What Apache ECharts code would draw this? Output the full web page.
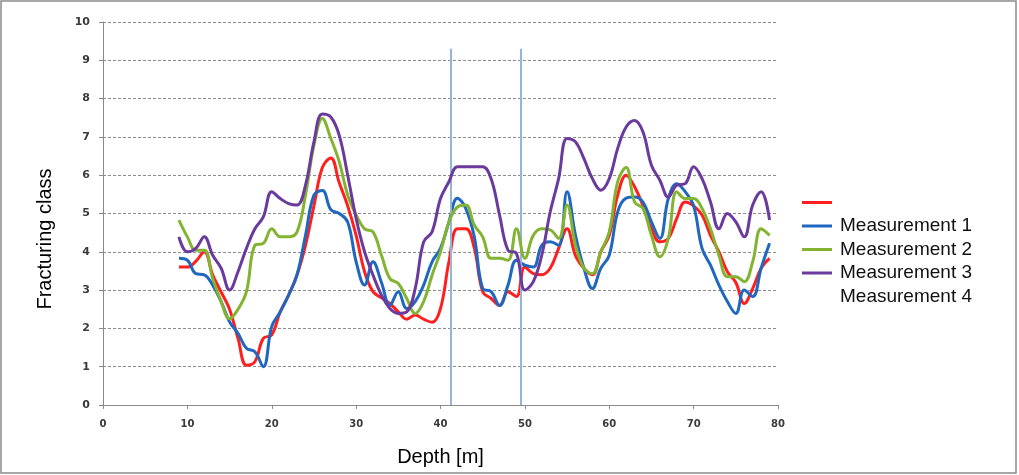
<!DOCTYPE html>
<html>
<head>
<meta charset="utf-8">
<script src="https://cdn.jsdelivr.net/npm/echarts@6/dist/echarts.min.js"></script>
<style>html,body{margin:0;padding:0;background:#fff;}#chart{width:1019px;height:475px;}</style>
</head>
<body>
<div id="chart"></div>
<script>
// Depth positions (m)
const depth = [9,10,11,12,13,14,15,16,17,18,19,20,21,22,23,24,25,26,27,28,29,30,31,32,33,34,35,36,37,38,39,40,41,42,43,44,45,46,47,48,49,50,51,52,53,54,55,56,57,58,59,60,61,62,63,64,65,66,67,68,69,70,71,72,73,74,75,76,77,78,79];

const redValues = [3.6,3.6,3.75,4.0,3.4,2.95,2.5,1.74,1.04,1.13,1.74,1.83,2.43,2.87,3.4,4.17,5.2,6.2,6.45,5.8,5.2,4.43,3.48,2.96,2.8,2.65,2.43,2.24,2.35,2.24,2.16,2.52,3.74,4.6,4.6,4.1,2.96,2.78,2.6,2.96,2.83,3.6,3.43,3.4,3.57,4.09,4.6,3.9,3.57,3.4,4.0,4.43,5.48,6.0,5.7,5.2,4.6,4.26,4.35,4.87,5.3,5.2,4.96,4.43,4.0,3.48,3.2,2.65,3.04,3.57,3.83];

const blueValues = [3.83,3.78,3.43,3.4,3.13,2.7,2.17,1.87,1.48,1.39,1.0,2.05,2.43,2.87,3.4,4.43,5.48,5.6,5.1,5.0,4.78,3.74,3.13,3.74,3.2,2.6,2.96,2.52,2.7,3.13,3.74,4.09,4.78,5.4,5.13,4.4,3.04,2.96,2.6,3.13,3.78,3.65,3.6,4.17,4.26,4.17,5.57,4.43,3.57,3.04,3.57,3.91,5.04,5.4,5.43,5.3,4.78,4.35,5.39,5.78,5.57,5.2,4.09,3.65,3.13,2.7,2.39,3.0,2.83,3.57,4.22];

const greenValues = [4.83,4.39,4.04,4.04,3.3,2.7,2.25,2.5,2.96,4.17,4.22,4.6,4.39,4.39,4.52,5.48,6.78,7.48,6.96,6.35,5.48,4.96,4.6,4.52,3.91,3.3,3.17,2.78,2.39,2.7,3.39,4.0,4.78,5.17,5.22,4.7,4.39,3.83,3.83,3.78,4.6,3.83,4.43,4.6,4.57,4.35,5.22,4.17,3.57,3.43,4.0,4.52,5.83,6.2,5.3,5.13,4.43,3.87,4.35,5.57,5.39,5.39,5.13,4.6,3.91,3.35,3.35,3.22,3.74,4.6,4.43];

const purpleValues = [4.39,4.0,4.09,4.39,3.91,3.57,3.0,3.48,4.09,4.6,4.91,5.57,5.39,5.26,5.22,5.74,6.87,7.6,7.52,7.04,6.0,4.87,4.0,3.39,2.87,2.52,2.39,2.43,3.04,4.26,4.52,5.39,5.83,6.22,6.22,6.22,6.22,5.91,4.96,4.04,3.96,3.0,3.22,3.91,5.04,5.91,6.96,6.87,6.43,5.91,5.61,5.91,6.7,7.26,7.43,7.13,6.26,5.87,5.43,5.74,5.78,6.22,5.91,5.3,4.6,5.0,4.78,4.39,5.22,5.57,4.83];

// Section boundaries (m) and their top (class)
const boundaryDepths = [41.2, 49.5];
const boundaryTop = 9.3;

const legendLabels = ['', 'Measurement 1', 'Measurement 2', 'Measurement 3', 'Measurement 4'];
const seriesNames = ['Series 0', 'Measurement 1', 'Measurement 2', 'Measurement 3', 'Measurement 4'];
const xTicks = {min: 0, max: 80, interval: 10};
const yTicks = {min: 0, max: 10, interval: 1};

const colors = ['#ff1f1f', '#1f67bf', '#82b431', '#6a3a9c'];
const valueSets = [redValues, blueValues, greenValues, purpleValues];

function pairs(vals) { return depth.map((d, i) => [d, vals[i]]); }

const series = valueSets.map((vals, i) => ({
  name: seriesNames[i],
  type: 'line',
  data: pairs(vals),
  smooth: 0.4,
  symbol: 'none',
  z: 3 + i,
  lineStyle: {color: colors[i], width: 3},
  itemStyle: {color: colors[i]}
}));
series.push({
  name: seriesNames[4],
  type: 'line',
  data: [],
  symbol: 'none',
  lineStyle: {color: 'rgba(0,0,0,0)', width: 3},
  itemStyle: {color: 'rgba(0,0,0,0)'}
});
series.push({
  name: 'boundaries',
  type: 'line',
  data: [],
  z: 2,
  markLine: {
    silent: true,
    symbol: 'none',
    label: {show: false},
    lineStyle: {color: '#94b4dc', width: 2, type: 'solid'},
    data: boundaryDepths.map(d => [{coord: [d, 0]}, {coord: [d, boundaryTop]}])
  }
});

const chart = echarts.init(document.getElementById('chart'), null, {renderer: 'canvas'});
chart.setOption({
  animation: false,
  backgroundColor: '#ffffff',
  grid: {left: 103, right: 241, top: 22, bottom: 70},
  legend: {
    orient: 'vertical',
    left: 797,
    top: 188,
    icon: 'rect',
    itemWidth: 30,
    itemHeight: 3,
    itemGap: 4.5,
    data: seriesNames,
    formatter: name => legendLabels[seriesNames.indexOf(name)],
    textStyle: {fontFamily: 'Liberation Sans, Arial, sans-serif', fontSize: 19, color: '#111', lineHeight: 19, height: 19, padding: [0, 0, 0, 3]},
    selectedMode: false
  },
  xAxis: {
    type: 'value',
    min: xTicks.min, max: xTicks.max, interval: xTicks.interval,
    name: 'Depth [m]',
    nameLocation: 'middle',
    nameGap: 42,
    nameTextStyle: {fontFamily: 'Liberation Sans, Arial, sans-serif', fontSize: 20, color: '#000'},
    axisLine: {show: true, onZero: false, lineStyle: {color: '#8a8a8a', width: 1}},
    axisTick: {show: true, length: 4, lineStyle: {color: '#8a8a8a'}},
    axisLabel: {margin: 14, fontFamily: 'DejaVu Sans', fontWeight: 'bold', fontSize: 10, color: '#3a3a3a'},
    splitLine: {show: false}
  },
  yAxis: {
    type: 'value',
    min: yTicks.min, max: yTicks.max, interval: yTicks.interval,
    axisLine: {show: true, lineStyle: {color: '#8a8a8a', width: 1}},
    axisTick: {show: true, length: 4, lineStyle: {color: '#8a8a8a'}},
    axisLabel: {margin: 13, fontFamily: 'DejaVu Sans', fontWeight: 'bold', fontSize: 11, color: '#3a3a3a'},
    splitLine: {show: true, lineStyle: {color: '#8c8c8c', width: 1, type: [3, 2]}}
  },
  graphic: [
    {type: 'rect', z: 0, shape: {x: 1, y: 1, width: 1015, height: 472}, style: {fill: 'none', stroke: '#8a8a8a', lineWidth: 1.5}},
    {type: 'text', x: 45, y: 239, rotation: Math.PI / 2, style: {text: 'Fracturing class', fontFamily: 'Liberation Sans, Arial, sans-serif', fontSize: 20, fill: '#000', align: 'center', verticalAlign: 'middle'}}
  ],
  series: series
});
</script>
</body>
</html>
